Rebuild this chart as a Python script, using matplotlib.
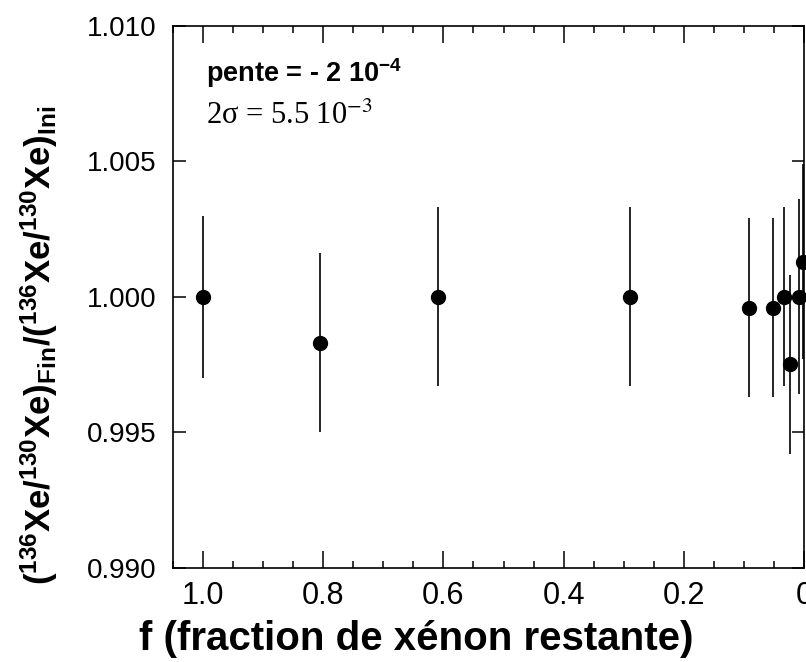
import matplotlib
matplotlib.use('Agg')
import matplotlib.pyplot as plt
from matplotlib import font_manager
from matplotlib.ticker import MultipleLocator, FixedLocator

# Data
f_rest = [1.0, 0.806, 0.609, 0.289, 0.092, 0.052, 0.034, 0.023, 0.009, 0.002]
ratio = [1.0000, 0.9983, 1.0000, 1.0000, 0.9996, 0.9996, 1.0000, 0.9975, 1.0000, 1.0013]
err = [0.0030, 0.0033, 0.0033, 0.0033, 0.0033, 0.0033, 0.0033, 0.0033, 0.0036, 0.0036]

x_ticks = [1.0, 0.8, 0.6, 0.4, 0.2, 0.0]
x_ticklabels = ['1.0', '0.8', '0.6', '0.4', '0.2', '0']
y_ticks = [0.990, 0.995, 1.000, 1.005, 1.010]
y_ticklabels = ['0.990', '0.995', '1.000', '1.005', '1.010']

names = {f.name for f in font_manager.fontManager.ttflist}
narrow = 'Liberation Sans Narrow' if 'Liberation Sans Narrow' in names else 'Liberation Sans'

plt.rcParams['font.family'] = ['Liberation Sans', 'DejaVu Sans']
plt.rcParams['mathtext.fontset'] = 'custom'
plt.rcParams['mathtext.rm'] = narrow + ':bold'
plt.rcParams['mathtext.bf'] = narrow + ':bold'
plt.rcParams['mathtext.it'] = narrow + ':bold'

fig = plt.figure(figsize=(8.06, 6.62), dpi=100)
ax = fig.add_axes([0.2146, 0.1427, 0.7829, 0.818])

ax.errorbar(f_rest, ratio, yerr=err, fmt='o', color='black', ms=10,
            elinewidth=1.2, capsize=0, clip_on=False, zorder=3)

ax.set_xlim(1.05, 0.0)
ax.set_ylim(0.990, 1.010)
ax.xaxis.set_major_locator(FixedLocator(x_ticks))
ax.xaxis.set_minor_locator(MultipleLocator(0.05))
ax.set_xticklabels(x_ticklabels, family=narrow, fontsize=22)
ax.set_yticks(y_ticks)
ax.set_yticklabels(y_ticklabels, fontsize=20)

ax.tick_params(axis='x', which='major', direction='in', length=12, width=1.1,
               top=True, bottom=True, pad=10)
ax.tick_params(axis='x', which='minor', direction='in', length=5, width=1.1,
               top=True, bottom=True)
ax.tick_params(axis='y', which='major', direction='in', length=9, width=1.1,
               left=True, right=True, pad=12)
for s in ax.spines.values():
    s.set_linewidth(1.2)

ax.set_xlabel('f (fraction de xénon restante)', family=narrow, fontweight='bold',
              fontsize=29)
ax.xaxis.set_label_coords(0.385, -0.096)
ax.set_ylabel(r'$(^{136}\mathrm{Xe}/^{130}\mathrm{Xe})_{\mathrm{Fin}}/(^{136}\mathrm{Xe}/^{130}\mathrm{Xe})_{\mathrm{Ini}}$',
              fontsize=25)
ax.yaxis.set_label_coords(-0.179, 0.41)

ax.text(0.052, 0.945, 'pente = - 2 10$^{-4}$', transform=ax.transAxes,
        fontsize=19.5, fontweight='bold', va='top', ha='left')
ax.text(0.052, 0.86, '2σ = 5.5 10$^{\\minus 3}$', transform=ax.transAxes,
        family='Liberation Serif', fontsize=22, va='top', ha='left',
        math_fontfamily='stix')

fig.savefig('out.png', dpi=100)
